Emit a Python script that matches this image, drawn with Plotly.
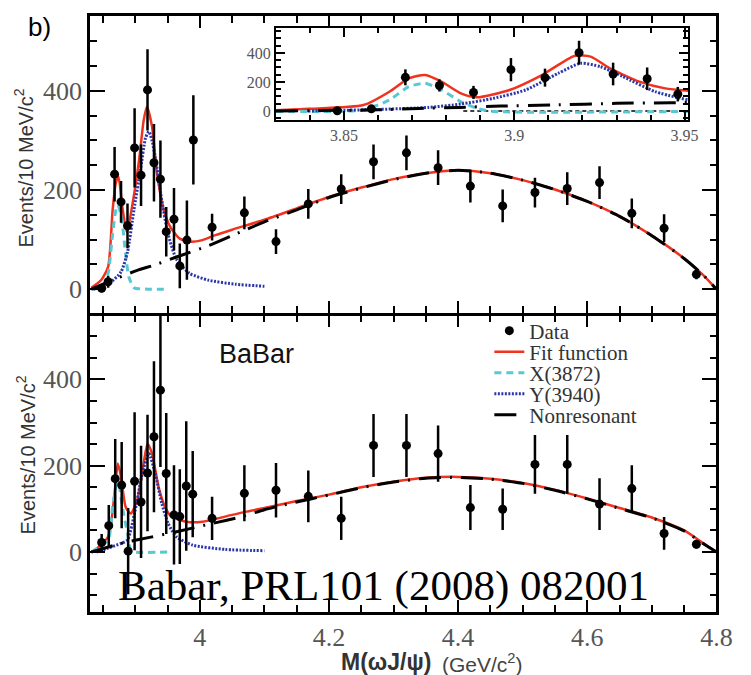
import plotly.graph_objects as go

# ---------------- data ----------------
# top panel data
TOP_X = [3.848, 3.858, 3.868, 3.878, 3.888, 3.899, 3.909, 3.919, 3.929, 3.939, 3.948, 3.960, 3.969, 3.980, 3.990,
         4.019, 4.069, 4.118, 4.168, 4.219, 4.269, 4.320, 4.369, 4.419, 4.469, 4.519, 4.569, 4.619, 4.669, 4.719, 4.769]
TOP_Y = [2, 15, 232, 176, 128, 285, 230, 402, 255, 222, 116, 141, 47, 99, 301,
         125, 154, 96, 172, 202, 257, 275, 245, 208, 168, 195, 203, 215, 153, 123, 30]
TOP_E = [8, 12, 55, 42, 45, 80, 62, 82, 78, 78, 50, 63, 45, 80, 90,
         27, 33, 25, 30, 30, 35, 35, 35, 33, 33, 30, 33, 33, 30, 28, 10]

# bottom panel data
BOT_X = [3.848, 3.859, 3.869, 3.879, 3.889, 3.899, 3.909, 3.919, 3.929, 3.939, 3.948, 3.960, 3.969, 3.979, 3.989,
         4.019, 4.069, 4.118, 4.168, 4.219, 4.269, 4.320, 4.369, 4.419, 4.469, 4.519, 4.569, 4.619, 4.669, 4.719, 4.769]
BOT_Y = [22, 61, 170, 155, 2, 164, 116, 183, 267, 375, 182, 86, 82, 153, 134,
         78, 136, 143, 129, 78, 247, 247, 228, 103, 99, 203, 203, 111, 147, 43, 18]
BOT_E = [20, 48, 92, 100, 100, 160, 130, 135, 175, 178, 140, 115, 110, 150, 100,
         50, 65, 63, 60, 50, 73, 73, 65, 52, 48, 68, 68, 60, 54, 38, 10]

# top panel curves
FIT_T_X = [3.832, 3.847, 3.858, 3.865, 3.870, 3.874, 3.880, 3.887, 3.895, 3.906, 3.913, 3.918, 3.926, 3.933,
           3.943, 3.954, 3.969, 3.984, 4.004, 4.024, 4.05, 4.10, 4.15, 4.20, 4.25, 4.30, 4.35, 4.40, 4.45,
           4.50, 4.55, 4.60, 4.65, 4.70, 4.75, 4.78, 4.80]
FIT_T_Y = [3, 18, 45, 160, 215, 227, 166, 115, 166, 261, 340, 368, 328, 240,
           166, 126, 102, 96, 99, 109, 120, 140, 163, 186, 205, 222, 234, 240, 234,
           220, 201, 177, 147, 108, 62, 28, 0]
X_T_X = [3.832, 3.850, 3.858, 3.865, 3.870, 3.873, 3.877, 3.880, 3.885, 3.890, 3.898, 3.920, 3.950]
X_T_Y = [0, 5, 32, 112, 160, 170, 155, 133, 72, 25, 3, 0, 0]
Y_T_X = [3.835, 3.860, 3.878, 3.888, 3.898, 3.908, 3.916, 3.921, 3.926, 3.933, 3.941, 3.951, 3.964, 3.984,
         4.014, 4.055, 4.100]
Y_T_Y = [0, 12, 35, 75, 160, 240, 305, 318, 300, 250, 180, 110, 60, 32, 18, 10, 6]
NR_T_X = [3.832, 3.858, 3.903, 3.928, 3.964, 4.014, 4.05, 4.10, 4.15, 4.20, 4.25, 4.30, 4.35, 4.40, 4.45,
          4.50, 4.55, 4.60, 4.65, 4.70, 4.75, 4.78, 4.80]
NR_T_Y = [0, 15, 38, 48, 65, 88, 108, 136, 160, 185, 204, 221, 234, 240, 234,
          220, 201, 177, 147, 108, 62, 28, 0]

# inset curves
FIT_I_X = [3.830, 3.8395, 3.8557, 3.8633, 3.869, 3.8738, 3.8786, 3.8843, 3.889, 3.8986, 3.9081, 3.9176,
           3.9224, 3.9281, 3.9367, 3.9443, 3.951]
FIT_I_Y = [5, 15, 41, 133, 225, 248, 202, 122, 94, 145, 248, 379, 375, 294, 202, 156, 140]
X_I_X = [3.830, 3.8557, 3.8633, 3.869, 3.8738, 3.8786, 3.8843, 3.889, 3.894, 3.951]
X_I_Y = [-3, 8, 76, 168, 191, 145, 64, 18, -3, -3]
Y_I_X = [3.8395, 3.8605, 3.8748, 3.8843, 3.8938, 3.9033, 3.9129, 3.9195, 3.9252, 3.9319, 3.9414, 3.951]
Y_I_Y = [0, 11, 25, 48, 87, 145, 260, 329, 306, 237, 133, 76]
NR_I_X = [3.830, 3.860, 3.872, 3.884, 3.896, 3.911, 3.930, 3.946, 3.951]
NR_I_Y = [0, 8, 18, 25, 34, 41, 53, 57, 58]
BASE_I_X = [3.885, 3.951]
BASE_I_Y = [0, 0]

# bottom panel curves
FIT_B_X = [3.835, 3.858, 3.868, 3.873, 3.878, 3.885, 3.893, 3.903, 3.913, 3.919, 3.926, 3.936, 3.946, 3.956,
           3.979, 4.004, 4.039, 4.07, 4.10, 4.15, 4.20, 4.25, 4.30, 4.35, 4.40, 4.45, 4.50, 4.55, 4.60,
           4.65, 4.70, 4.75, 4.78, 4.80]
FIT_B_Y = [1, 35, 136, 205, 174, 105, 89, 120, 205, 251, 228, 151, 105, 82,
           70, 70, 82, 93, 102, 118, 133, 150, 163, 172, 174, 170, 160, 144, 124,
           102, 80, 50, 20, 0]
X_B_X = [3.832, 3.858, 3.865, 3.872, 3.875, 3.880, 3.888, 3.893, 3.900, 3.953]
X_B_Y = [0, 28, 105, 163, 155, 105, 43, 5, 0, 0]
Y_B_X = [3.840, 3.858, 3.878, 3.888, 3.900, 3.911, 3.921, 3.931, 3.941, 3.951, 3.964, 3.989, 4.039, 4.100]
Y_B_Y = [0, 9, 20, 28, 97, 182, 228, 182, 113, 66, 35, 16, 6, 3]
NR_B_X = [3.832, 3.878, 3.926, 3.964, 4.019, 4.065, 4.10, 4.15, 4.20, 4.25, 4.30, 4.35, 4.40, 4.45, 4.50,
          4.55, 4.60, 4.65, 4.70, 4.75, 4.78, 4.80]
NR_B_Y = [0, 20, 35, 47, 66, 82, 98, 116, 132, 149, 162, 171, 173, 169, 159,
          143, 123, 101, 79, 49, 19, 0]

MAIN_XTICKS = [4.0, 4.2, 4.4, 4.6, 4.8]
MAIN_XLABELS = ["4", "4.2", "4.4", "4.6", "4.8"]
MAIN_YTICKS = [0, 200, 400]
INSET_XTICKS = [3.85, 3.90, 3.95]
INSET_XLABELS = ["3.85", "3.9", "3.95"]

# ---------------- styling ----------------
W, H = 751, 675
RED = "#f0321e"
CYAN = "#58c8d2"
BLUE = "#2a35a8"
SERIF = "Liberation Serif, Times New Roman, serif"
SANS = "Liberation Sans, Arial, sans-serif"


def dx(px):
    return px / W


def dy(py):
    return 1 - py / H


fig = go.Figure()

# one legend per entry so the rows can be spaced like the reference
LEG = {"Data": "legend", "Fit function": "legend2", "X(3872)": "legend3",
       "Y(3940)": "legend4", "Nonresonant": "legend5"}


def add_panel(xa, ya, dx_, dy_, de, curves, legend):
    fit_x, fit_y, x_x, x_y, y_x, y_y, nr_x, nr_y = curves
    fig.add_trace(go.Scatter(x=fit_x, y=fit_y, mode="lines", name="Fit function",
                             line=dict(color=RED, width=2.5, shape="spline", smoothing=0.6),
                             xaxis=xa, yaxis=ya, showlegend=legend, legend=LEG["Fit function"]))
    fig.add_trace(go.Scatter(x=x_x, y=x_y, mode="lines", name="X(3872)",
                             line=dict(color=CYAN, width=3, dash="7px,5px", shape="spline", smoothing=0.6),
                             xaxis=xa, yaxis=ya, showlegend=legend, legend=LEG["X(3872)"]))
    fig.add_trace(go.Scatter(x=y_x, y=y_y, mode="lines", name="Y(3940)",
                             line=dict(color=BLUE, width=3, dash="2px,1.5px", shape="spline", smoothing=0.6),
                             xaxis=xa, yaxis=ya, showlegend=legend, legend=LEG["Y(3940)"]))
    fig.add_trace(go.Scatter(x=nr_x, y=nr_y, mode="lines", name="Nonresonant",
                             line=dict(color="black", width=3, dash="22px,9px,2px,9px", shape="spline",
                                       smoothing=0.6),
                             xaxis=xa, yaxis=ya, showlegend=legend, legend=LEG["Nonresonant"]))
    fig.add_trace(go.Scatter(x=dx_, y=dy_, mode="markers", name="Data",
                             marker=dict(color="black", size=9),
                             error_y=dict(type="data", array=de, thickness=2.5, width=0, color="black"),
                             xaxis=xa, yaxis=ya, showlegend=legend, legend=LEG["Data"]))


add_panel("x", "y", TOP_X, TOP_Y, TOP_E,
          (FIT_T_X, FIT_T_Y, X_T_X, X_T_Y, Y_T_X, Y_T_Y, NR_T_X, NR_T_Y), False)
add_panel("x2", "y2", BOT_X, BOT_Y, BOT_E,
          (FIT_B_X, FIT_B_Y, X_B_X, X_B_Y, Y_B_X, Y_B_Y, NR_B_X, NR_B_Y), True)
# inset
fig.add_trace(go.Scatter(x=BASE_I_X, y=BASE_I_Y, mode="lines", showlegend=False,
                         line=dict(color="black", width=1.5, dash="4px,3px"), xaxis="x3", yaxis="y3"))
add_panel("x3", "y3", TOP_X, TOP_Y, TOP_E,
          (FIT_I_X, FIT_I_Y, X_I_X, X_I_Y, Y_I_X, Y_I_Y, NR_I_X, NR_I_Y), False)

axis_common = dict(showline=True, linecolor="black", linewidth=2.5, mirror="ticks", ticks="inside",
                   tickcolor="black", tickwidth=2, showgrid=False, zeroline=False)
minor_x = dict(dtick=0.05, tick0=4.0, ticks="inside", ticklen=7, tickwidth=2, tickcolor="black", showgrid=False)
minor_y = dict(dtick=50, tick0=0, ticks="inside", ticklen=7, tickwidth=2, tickcolor="black", showgrid=False)
tickfont_main = dict(family=SERIF, size=26, color="#555555")

leg_common = dict(x=dx(500), xanchor="left", yanchor="middle", bgcolor="rgba(0,0,0,0)",
                  font=dict(family=SERIF, size=21, color="#333333"))

XDOM = [dx(92), dx(732)]
fig.update_layout(
    width=W, height=H, margin=dict(l=0, r=0, t=0, b=0),
    paper_bgcolor="white", plot_bgcolor="white", showlegend=True,
    xaxis=dict(axis_common, domain=XDOM, range=[3.83, 4.8], anchor="y", tickvals=MAIN_XTICKS,
               showticklabels=False, ticklen=12, minor=minor_x),
    yaxis=dict(axis_common, domain=[dy(313), dy(16)], range=[-48, 551], anchor="x", tickvals=MAIN_YTICKS,
               ticklen=15, minor=minor_y, tickfont=tickfont_main),
    xaxis2=dict(axis_common, domain=XDOM, range=[3.83, 4.8], anchor="y2", tickvals=MAIN_XTICKS,
                ticktext=MAIN_XLABELS, ticklen=12, minor=minor_x, tickfont=tickfont_main),
    yaxis2=dict(axis_common, domain=[dy(612), dy(315.5)], range=[-139, 548], anchor="x2", tickvals=MAIN_YTICKS,
                ticklen=15, minor=minor_y, tickfont=tickfont_main),
    xaxis3=dict(axis_common, domain=[dx(282), dx(703)], range=[3.83, 3.951], anchor="y3",
                tickvals=INSET_XTICKS, ticktext=INSET_XLABELS, ticklen=9, linewidth=2,
                minor=dict(dtick=0.01, tick0=3.85, ticks="inside", ticklen=5, tickwidth=1.5, tickcolor="black"),
                tickfont=dict(family=SERIF, size=16, color="#555555")),
    yaxis3=dict(axis_common, domain=[dy(120), dy(28)], range=[-62, 572], anchor="x3", tickvals=MAIN_YTICKS,
                ticklen=9, linewidth=2,
                minor=dict(dtick=50, tick0=0, ticks="inside", ticklen=5, tickwidth=1.5, tickcolor="black"),
                tickfont=dict(family=SERIF, size=16, color="#555555")),
    legend=dict(leg_common, y=dy(331)),
    legend2=dict(leg_common, y=dy(352)),
    legend3=dict(leg_common, y=dy(373)),
    legend4=dict(leg_common, y=dy(394)),
    legend5=dict(leg_common, y=dy(415)),
)

ann = [
    dict(text="b)", x=dx(40), y=dy(27), font=dict(family=SANS, size=26, color="black")),
    dict(text="Events/10 MeV/c<sup>2</sup>", x=dx(24), y=dy(168), textangle=-90,
         font=dict(family=SANS, size=20, color="#333333")),
    dict(text="Events/10 MeV/c<sup>2</sup>", x=dx(26), y=dy(455), textangle=-90,
         font=dict(family=SANS, size=20, color="#333333")),
    dict(text="BaBar", x=dx(262), y=dy(354), font=dict(family=SANS, size=27, color="#111111")),
    dict(text="Babar, PRL101 (2008) 082001", x=dx(392), y=dy(586),
         font=dict(family=SERIF, size=43, color="black")),
    dict(text="<b>M(ωJ/ψ)</b>", x=dx(394), y=dy(662), font=dict(family=SANS, size=23, color="#333333")),
    dict(text="(GeV/c<sup>2</sup>)", x=dx(493), y=dy(663), font=dict(family=SANS, size=21, color="#444444")),
]
for a in ann:
    a.update(xref="paper", yref="paper", showarrow=False, xanchor="center", yanchor="middle")
fig.update_layout(annotations=ann)

fig.write_html("out.html")
